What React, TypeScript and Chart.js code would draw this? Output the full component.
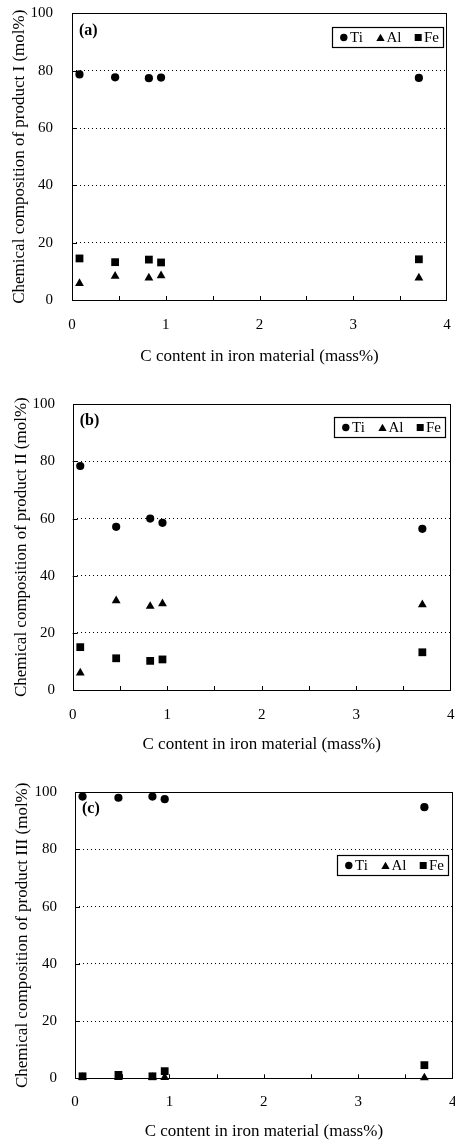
import React, { useEffect, useRef } from "react";
import { Chart, registerables } from "chart.js";

Chart.register(...registerables);

// ---------- data ----------
const carbonContent = [0.08, 0.46, 0.82, 0.95, 3.7];
const xTickValues = [0, 1, 2, 3, 4];
const xMinorTicks = [0.5, 1, 1.5, 2, 2.5, 3, 3.5];
const yTickValues = [0, 20, 40, 60, 80, 100];
const seriesNames = ["Ti", "Al", "Fe"];

const tiProductI = [78.7, 77.7, 77.4, 77.6, 77.5];
const alProductI = [5.8, 8.3, 7.7, 8.5, 7.7];
const feProductI = [14.5, 13.2, 14.1, 13.1, 14.2];

const tiProductII = [78.4, 57.1, 60.0, 58.5, 56.4];
const alProductII = [6.0, 31.3, 29.3, 30.2, 29.9];
const feProductII = [15.0, 11.1, 10.2, 10.7, 13.2];

const tiProductIII = [98.5, 98.1, 98.5, 97.6, 94.8];
const alProductIII = [0.3, 0.3, 0.3, 0.3, 0.2];
const feProductIII = [0.7, 1.2, 0.7, 2.5, 4.6];

const xTitle = "C content in iron material (mass%)";
const yTitles = [
  "Chemical composition of product I (mol%)",
  "Chemical composition of product II (mol%)",
  "Chemical composition of product III (mol%)",
];
const panelLabels = ["(a)", "(b)", "(c)"];

// ---------- layout (pixels) ----------
const FONT = "'Liberation Serif', 'Times New Roman', serif";
const TICK_SIZE = 15;
const TITLE_SIZE = 17;

const panels = [
  {
    series: [tiProductI, alProductI, feProductI],
    canvasTop: 0, canvasH: 378,
    plotLeft: 72, plotRight: 447, plotTop: 13.4, plotBottom: 300,
    xTickY: 325, xTitleY: 357, yTitleX: 20, yTickRight: 53,
    legendRightInset: 4, legendTopInset: 13.6,
  },
  {
    series: [tiProductII, alProductII, feProductII],
    canvasTop: 378, canvasH: 382,
    plotLeft: 72.7, plotRight: 450.7, plotTop: 404.3, plotBottom: 690,
    xTickY: 715, xTitleY: 745, yTitleX: 21.7, yTickRight: 55,
    legendRightInset: 5.7, legendTopInset: 12.7,
  },
  {
    series: [tiProductIII, alProductIII, feProductIII],
    canvasTop: 760, canvasH: 382,
    plotLeft: 75, plotRight: 452.7, plotTop: 792.3, plotBottom: 1078.3,
    xTickY: 1101.7, xTitleY: 1132, yTitleX: 22.7, yTickRight: 57,
    legendRightInset: 5, legendTopInset: 62.7,
  },
];

const styles = ["circle", "triangle", "rect"] as const;
const radii = [4.1, 5.1, 5.5];

function drawMarker(ctx: CanvasRenderingContext2D, style: string, x: number, y: number, size: number) {
  ctx.beginPath();
  if (style === "circle") {
    ctx.arc(x, y, size, 0, Math.PI * 2);
  } else if (style === "triangle") {
    const r = size;
    ctx.moveTo(x, y - r);
    ctx.lineTo(x + r * Math.sin((2 * Math.PI) / 3), y - r * Math.cos((2 * Math.PI) / 3));
    ctx.lineTo(x + r * Math.sin((4 * Math.PI) / 3), y - r * Math.cos((4 * Math.PI) / 3));
    ctx.closePath();
  } else {
    ctx.rect(x - size, y - size, size * 2, size * 2);
  }
  ctx.fill();
}

const decorPlugin = {
  id: "decor",
  beforeDatasetsDraw(chart: any) {
    const { ctx, chartArea, scales } = chart;
    const { left, right, top, bottom } = chartArea;
    ctx.save();
    ctx.strokeStyle = "#000";
    ctx.lineWidth = 1;
    ctx.strokeRect(Math.round(left) + 0.5, Math.round(top) + 0.5, Math.round(right - left) - 1, Math.round(bottom - top));
    ctx.beginPath();
    for (const v of xMinorTicks) {
      const px = Math.round(scales.x.getPixelForValue(v)) + 0.5;
      ctx.moveTo(px, bottom);
      ctx.lineTo(px, bottom - 4);
    }
    for (const v of yTickValues.slice(1, -1)) {
      const py = Math.round(scales.y.getPixelForValue(v)) + 0.5;
      ctx.moveTo(left, py);
      ctx.lineTo(left + 5, py);
    }
    ctx.stroke();
    ctx.restore();
  },
  afterDraw(chart: any, _args: any, opts: any) {
    const { ctx, chartArea } = chart;
    const { left, right, top } = chartArea;
    ctx.save();
    // panel label
    ctx.fillStyle = "#000";
    ctx.font = `bold 16px ${FONT}`;
    ctx.textBaseline = "middle";
    ctx.textAlign = "left";
    ctx.fillText(opts.label, left + 7, top + 17);
    // legend box
    const w = 111, h = 20;
    const bx = Math.round(right - opts.rightInset - w) + 0.5;
    const by = Math.round(top + opts.topInset) + 0.5;
    ctx.fillStyle = "#fff";
    ctx.fillRect(bx, by, w, h);
    ctx.strokeStyle = "#000";
    ctx.lineWidth = 1.2;
    ctx.strokeRect(bx, by, w, h);
    const cy = by + h / 2;
    const markerX = [11.3, 48, 85.7];
    const textX = [17.5, 54, 91.5];
    const legendSizes = [3.7, 4.8, 3.5];
    ctx.font = `15px ${FONT}`;
    ctx.fillStyle = "#000";
    seriesNames.forEach((name, i) => {
      drawMarker(ctx, styles[i], bx + markerX[i], i === 1 ? cy + 1 : cy, legendSizes[i]);
      ctx.fillText(name, bx + textX[i], cy + 1);
    });
    ctx.restore();
  },
};

function Panel({ index }: { index: number }) {
  const ref = useRef<HTMLCanvasElement>(null);
  const p = panels[index];
  useEffect(() => {
    if (!ref.current) return;
    const tickLH = TICK_SIZE * 1.2;
    const titleLH = TITLE_SIZE * 1.2;
    const xAxisH = p.canvasH - (p.plotBottom - p.canvasTop);
    const chart = new Chart(ref.current, {
      type: "scatter",
      data: {
        datasets: seriesNames.map((name, i) => ({
          label: name,
          data: carbonContent.map((c, j) => ({ x: c, y: p.series[i][j] })),
          pointStyle: styles[i],
          pointRadius: radii[i],
          pointHoverRadius: radii[i],
          pointBackgroundColor: "#000",
          pointBorderColor: "#000",
          pointBorderWidth: 0,
          showLine: false,
          clip: false,
        })),
      },
      options: {
        responsive: false,
        animation: false,
        devicePixelRatio: 1,
        layout: {
          autoPadding: false,
          padding: { left: 0, right: 455 - p.plotRight, top: p.plotTop - p.canvasTop, bottom: 0 },
        },
        plugins: {
          legend: { display: false },
          tooltip: { enabled: false },
          decor: {
            label: panelLabels[index],
            rightInset: p.legendRightInset,
            topInset: p.legendTopInset,
          },
        } as any,
        scales: {
          x: {
            type: "linear",
            min: 0,
            max: 4,
            afterBuildTicks: (s: any) => {
              s.ticks = xTickValues.map((v) => ({ value: v }));
            },
            afterFit: (s: any) => {
              s.height = xAxisH;
              s.paddingLeft = 0;
              s.paddingRight = 0;
              s.paddingTop = 0;
              s.paddingBottom = 0;
            },
            grid: { display: false, drawTicks: false },
            border: { display: false },
            ticks: {
              color: "#000",
              font: { family: FONT, size: TICK_SIZE },
              padding: p.xTickY - p.plotBottom - tickLH / 2,
              maxRotation: 0,
              autoSkip: false,
            },
            title: {
              display: true,
              text: xTitle,
              color: "#000",
              font: { family: FONT, size: TITLE_SIZE },
              padding: { top: 0, bottom: Math.max(0, p.canvasTop + p.canvasH - p.xTitleY - titleLH / 2) },
            },
          },
          y: {
            type: "linear",
            min: 0,
            max: 100,
            afterBuildTicks: (s: any) => {
              s.ticks = yTickValues.map((v) => ({ value: v }));
            },
            afterFit: (s: any) => {
              s.width = p.plotLeft;
              s.paddingLeft = 0;
              s.paddingRight = 0;
              s.paddingTop = 0;
              s.paddingBottom = 0;
            },
            grid: {
              drawTicks: false,
              lineWidth: 1,
              color: (ctx: any) =>
                ctx.tick && (ctx.tick.value === 0 || ctx.tick.value === 100) ? "rgba(0,0,0,0)" : "#000",
            },
            border: { display: false, dash: [1, 3] },
            ticks: {
              color: "#000",
              font: { family: FONT, size: TICK_SIZE },
              padding: p.plotLeft - p.yTickRight,
              autoSkip: false,
            },
            title: {
              display: true,
              text: yTitles[index],
              color: "#000",
              font: { family: FONT, size: TITLE_SIZE },
              padding: { top: p.yTitleX - titleLH / 2, bottom: 0 },
            },
          },
        },
      },
      plugins: [decorPlugin as any],
    });
    return () => chart.destroy();
  }, [index]);
  return (
    <canvas
      ref={ref}
      width={455}
      height={p.canvasH}
      style={{ position: "absolute", left: 0, top: p.canvasTop, width: 455, height: p.canvasH, display: "block" }}
    />
  );
}

export default function App() {
  return (
    <div style={{ position: "absolute", left: 0, top: 0, width: 455, height: 1142, background: "#fff", overflow: "hidden" }}>
      {panels.map((_, i) => (
        <Panel key={i} index={i} />
      ))}
    </div>
  );
}
